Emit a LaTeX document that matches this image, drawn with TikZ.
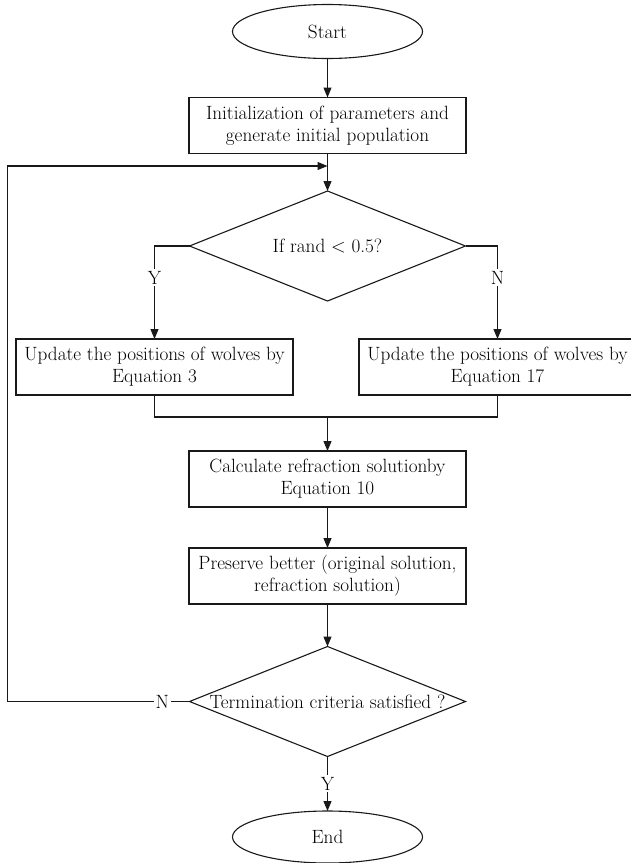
\documentclass[tikz,border=0pt]{standalone}
\usetikzlibrary{shapes.geometric,arrows.meta}
\begin{document}
\begin{tikzpicture}[x=1pt,y=-1pt,
  every node/.style={font=\fontsize{19.2}{22}\selectfont},
  line/.style={draw=black!90, line width=1.1pt},
  arr/.style={line, -{Triangle[length=10pt,width=8pt]}},
  procbox/.style={draw=black!90, line width=1.1pt, rectangle, minimum width=277pt, minimum height=56pt, inner sep=0pt, outer sep=0pt, align=center},
  termin/.style={draw=black!90, line width=1.1pt, ellipse, minimum width=190pt, minimum height=54pt, inner sep=0pt, outer sep=0pt},
  decide/.style={draw=black!90, line width=1.1pt, diamond, minimum width=276pt, minimum height=110pt, inner sep=0pt, outer sep=0pt},
  lbl/.style={fill=white, inner sep=2pt}
]
\useasboundingbox (0,0) rectangle (630,863);

\node[termin] (start) at (327.5,31.5) {Start};
\node[procbox] (init) at (327.5,125.5) {Initialization of parameters and\\generate initial population};
\node[decide] (d1) at (327.5,246) {\makebox[0pt]{If rand < 0.5?}};
\node[procbox] (upL) at (154.5,367) {Update the positions of wolves by\\Equation 3};
\node[procbox] (upR) at (497.5,367) {Update the positions of wolves by\\Equation 17};
\node[procbox] (calc) at (327.5,479) {Calculate refraction solutionby\\Equation 10};
\node[procbox] (pres) at (327.5,576) {Preserve better (original solution,\\refraction solution)};
\node[decide] (d2) at (327.5,701.5) {\makebox[0pt]{Termination criteria satisfied ?}};
\node[termin, minimum height=52pt] (end) at (327.5,837) {End};

\coordinate (j1) at (327.5,166);
\coordinate (m) at (327.5,417);
\coordinate (lp) at (7.5,701.5);

\draw[arr] (start) -- (init);
\draw[arr] (init) -- (d1);
\draw[arr] (d1.west) -| node[lbl, pos=0.67] {Y} (upL.north);
\draw[arr] (d1.east) -| node[lbl, pos=0.67] {N} (upR.north);
\draw[line] (upL.south) |- (m) -| (upR.south);
\draw[arr] (m) -- (calc);
\draw[arr] (calc) -- (pres);
\draw[arr] (pres) -- (d2);
\draw[arr] (d2.south) -- node[lbl, pos=0.5] {Y} (end);
\draw[arr] (d2.west) -- node[lbl, pos=0.15] {N} (lp) |- (j1);
\end{tikzpicture}
\end{document}
